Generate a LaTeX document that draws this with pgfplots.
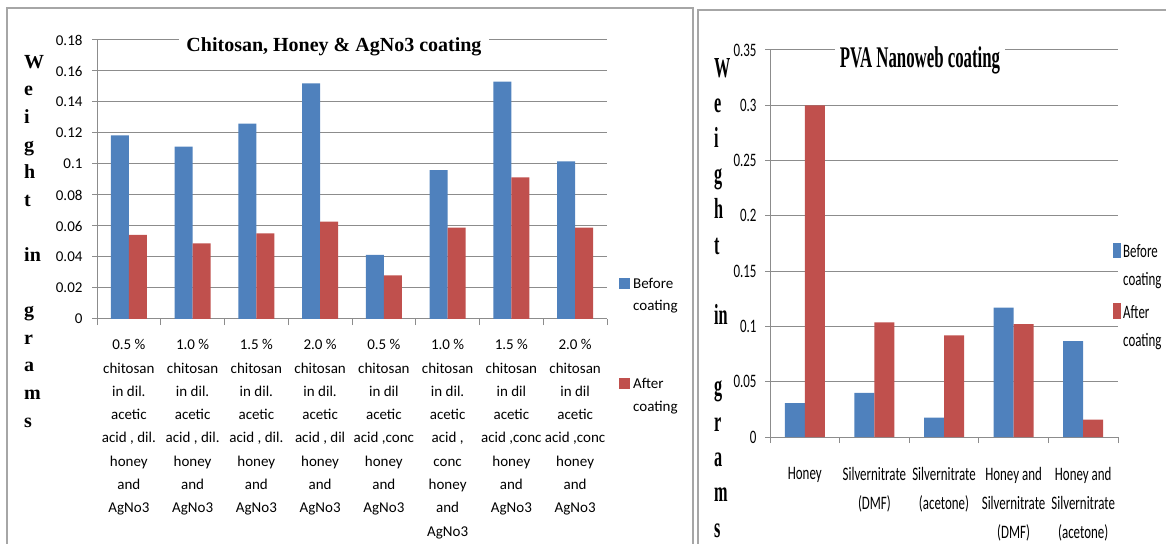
\documentclass[border=0pt]{standalone}
\usepackage{pgfplots}
\pgfplotsset{compat=1.18}
\usepackage{fontspec}
\setmainfont{Carlito}
\newfontfamily\calibc[FakeStretch=0.68]{Carlito}
\newfontfamily\tnr{Liberation Serif}
\newfontfamily\tnrc[FakeStretch=0.56]{Liberation Serif}
\definecolor{bblue}{HTML}{4F81BD}
\definecolor{bred}{HTML}{C0504D}
\definecolor{gridc}{HTML}{8C8C8C}
\definecolor{framec}{HTML}{A6A6A6}

\pgfplotstableread{
x before after
0 0.1185 0.0542
1 0.1112 0.0488
2 0.1260 0.0553
3 0.1520 0.0628
4 0.0413 0.0282
5 0.0961 0.0589
6 0.1531 0.0914
7 0.1017 0.0589
}\lefttab

\pgfplotstableread{
x before after
0 0.0307 0.3000
1 0.0398 0.1036
2 0.0175 0.0919
3 0.1170 0.1020
4 0.0868 0.0157
}\righttab

\pgfplotsset{
  excelbars/.style={
    scale only axis,
    axis x line=bottom, axis y line=left,
    axis line style={gridc, line width=1pt, -},
    ymajorgrids, grid style={gridc, line width=1pt},
    ybar=0pt,
    tick align=outside,
    major tick length=5pt, minor tick length=6pt,
    tick style={gridc, line width=1pt},
    major x tick style={draw=none},
    /pgf/number format/.cd, fixed, precision=2, assume math mode=true,
    /pgfplots/.cd,
  }
}

\begin{document}
\begin{tikzpicture}[x=1pt,y=1pt]
\path[use as bounding box] (0pt,0pt) rectangle (1166pt,543pt);
\draw[framec, line width=1.3pt] (7,-10) -- (7,535) -- (693,535) -- (693,-10);
\draw[framec, line width=1.3pt] (698,-10) -- (698,533) -- (1180,533);

% ---------- left chart ----------
\begin{axis}[excelbars,
  at={(97pt,224pt)}, anchor=south west,
  width=510pt, height=279pt,
  xmin=-0.5, xmax=7.5, ymin=0, ymax=0.18,
  bar width=18pt,
  ytick={0,0.02,0.04,0.06,0.08,0.1,0.12,0.14,0.16,0.18},
  yticklabel style={font=\fontsize{15}{18}\selectfont, xshift=-6pt},
  xtick={0,...,7},
  minor xtick={-0.5,0.5,...,7.5},
  xticklabels={
    {0.5 \%\\chitosan\\in dil.\\acetic\\acid , dil.\\honey\\and\\AgNo3},
    {1.0 \%\\chitosan\\in dil.\\acetic\\acid , dil.\\honey\\and\\AgNo3},
    {1.5 \%\\chitosan\\in dil.\\acetic\\acid , dil.\\honey\\and\\AgNo3},
    {2.0 \%\\chitosan\\in dil.\\acetic\\acid , dil\\honey\\and\\AgNo3},
    {0.5 \%\\chitosan\\in dil\\acetic\\acid ,conc\\honey\\and\\AgNo3},
    {1.0 \%\\chitosan\\in dil.\\acetic\\acid ,\\conc\\honey\\and\\AgNo3},
    {1.5 \%\\chitosan\\in dil\\acetic\\acid ,conc\\honey\\and\\AgNo3},
    {2.0 \%\\chitosan\\in dil\\acetic\\acid ,conc\\honey\\and\\AgNo3}},
  xticklabel style={align=center, anchor=north, font=\fontsize{15}{23.3}\selectfont, yshift=-12pt},
]
\addplot[fill=bblue, draw=none] table[x=x, y=before] {\lefttab};
\addplot[fill=bred, draw=none] table[x=x, y=after] {\lefttab};
\end{axis}

\node[fill=white, anchor=base, inner xsep=7pt, inner ysep=2pt, font=\tnr\bfseries\fontsize{20}{24}\selectfont] at (334,491) {Chitosan, Honey \& AgNo3 coating};

\node[anchor=north west, align=left, inner sep=0pt, font=\tnr\bfseries\fontsize{20}{27.6}\selectfont] at (24,488)
  {W\\e\\i\\g\\h\\t\\[27.6pt]in\\[27.6pt]g\\r\\a\\m\\s};

\fill[bblue] (619,254) rectangle (630,265);
\node[anchor=base west, inner sep=0pt, font=\fontsize{15}{18}\selectfont] at (633,254) {Before};
\node[anchor=base west, inner sep=0pt, font=\fontsize{15}{18}\selectfont] at (633,232) {coating};
\fill[bred] (619,154) rectangle (630,165);
\node[anchor=base west, inner sep=0pt, font=\fontsize{15}{18}\selectfont] at (633,154) {After};
\node[anchor=base west, inner sep=0pt, font=\fontsize{15}{18}\selectfont] at (633,131) {coating};

% ---------- right chart ----------
\begin{axis}[excelbars,
  at={(770pt,106pt)}, anchor=south west,
  width=348pt, height=387pt,
  xmin=-0.5, xmax=4.5, ymin=0, ymax=0.35,
  bar width=20pt,
  ytick={0,0.05,0.1,0.15,0.2,0.25,0.3,0.35},
  yticklabel style={font=\calibc\fontsize{19}{22}\selectfont, xshift=-5pt},
  xtick={0,...,4},
  minor xtick={-0.5,0.5,...,4.5},
  xticklabels={
    {Honey},
    {Silvernitrate\\(DMF)},
    {Silvernitrate\\(acetone)},
    {Honey and\\Silvernitrate\\(DMF)},
    {Honey and\\Silvernitrate\\(acetone)}},
  xticklabel style={align=center, anchor=north, font=\calibc\fontsize{19}{29}\selectfont, yshift=-22pt},
]
\addplot[fill=bblue, draw=none] table[x=x, y=before] {\righttab};
\addplot[fill=bred, draw=none] table[x=x, y=after] {\righttab};
\end{axis}

\node[fill=white, anchor=base, inner xsep=5pt, inner ysep=2pt, font=\tnrc\bfseries\fontsize{30}{34}\selectfont] at (920,475) {PVA Nanoweb coating};

\node[anchor=north west, align=left, inner sep=0pt, font=\tnrc\bfseries\fontsize{29}{35.4}\selectfont] at (714,485)
  {W\\e\\i\\g\\h\\t\\[35.4pt]in\\[35.4pt]g\\r\\a\\m\\s};

\fill[bblue] (1113,285) rectangle (1121,300);
\node[anchor=base west, inner sep=0pt, font=\calibc\fontsize{19}{22}\selectfont] at (1123,285) {Before};
\node[anchor=base west, inner sep=0pt, font=\calibc\fontsize{19}{22}\selectfont] at (1123,257) {coating};
\fill[bred] (1113,224) rectangle (1121,240);
\node[anchor=base west, inner sep=0pt, font=\calibc\fontsize{19}{22}\selectfont] at (1123,224) {After};
\node[anchor=base west, inner sep=0pt, font=\calibc\fontsize{19}{22}\selectfont] at (1123,196) {coating};
\end{tikzpicture}
\end{document}
